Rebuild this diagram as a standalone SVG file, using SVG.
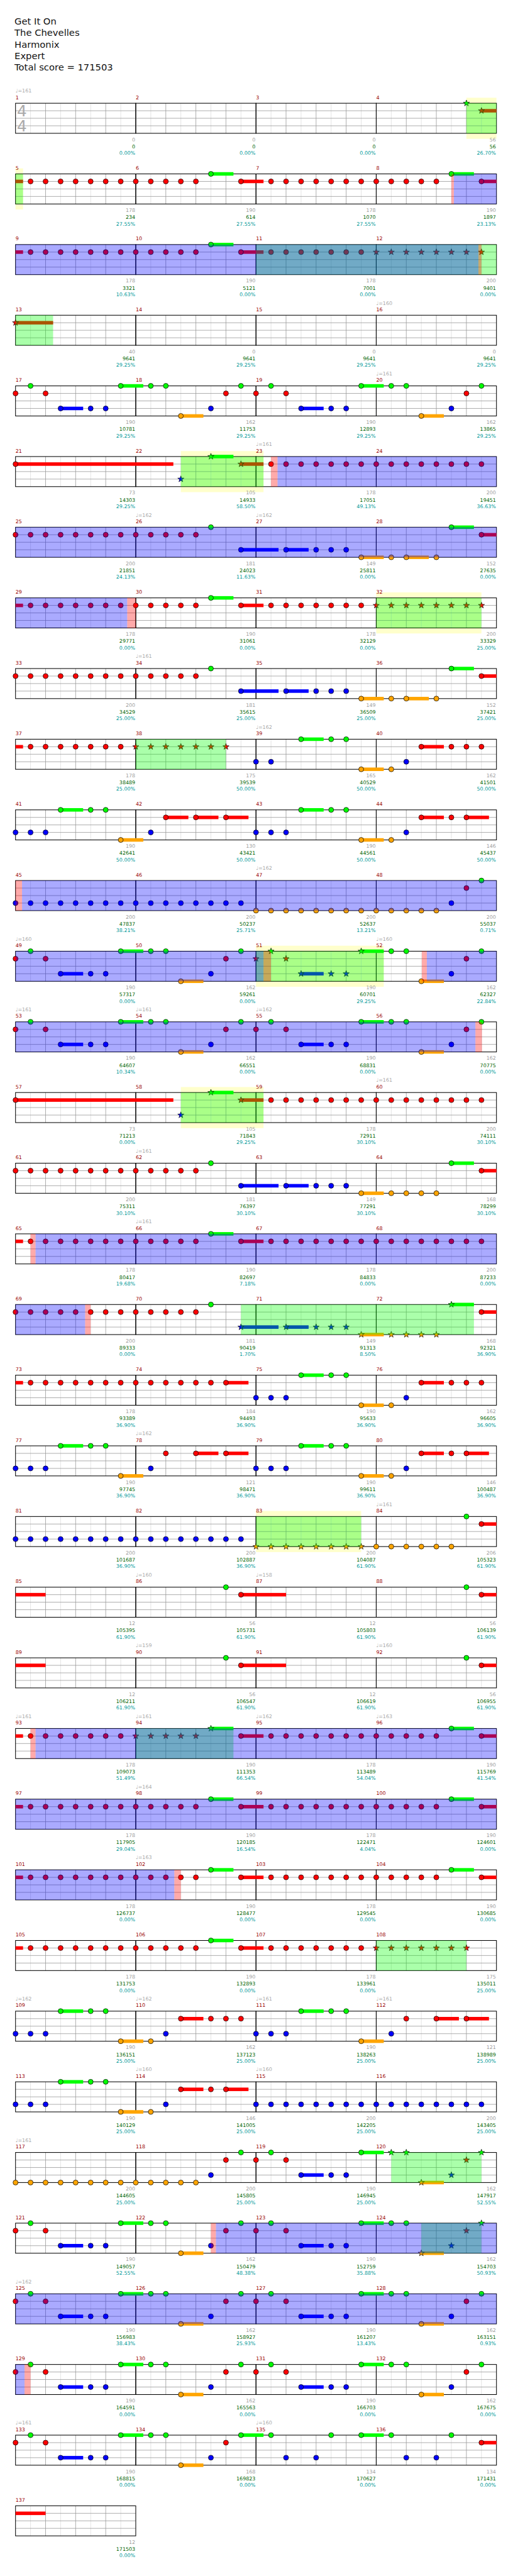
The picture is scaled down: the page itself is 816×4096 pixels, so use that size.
<svg xmlns="http://www.w3.org/2000/svg" width="816" height="4096" viewBox="0 0 816 4096">
<style>
.gl{stroke:#ddd;stroke-width:1;fill:none}
.gg{stroke:#999;stroke-width:1;fill:none}
.gb{fill:none;stroke:#000;stroke-width:1.3}
.sG{fill:#0f0}.sR{fill:#f00}.sB{fill:#00f}.sO{fill:#ffa500}
.og{fill:#0f0;fill-opacity:.333}.ob{fill:#00f;fill-opacity:.333}.op{fill:#f00;fill-opacity:.333}
.yl{fill:#ffffcc}
text{font-family:"DejaVu Sans",Verdana,sans-serif}
.ttl{font-size:18.5px;fill:#111}
.mn{font-size:10px;fill:#990000}
.tp{font-size:10px;fill:#aaa}
.lb{font-size:10px;text-anchor:end}
.c{fill:#a0a0a0}.s{fill:#006400}.p{fill:#009999}
.ts{font-size:31px;fill:#aaa}
</style>
<defs>
<circle id="nG" r="5" fill="#0f0" stroke="#000" stroke-width=".9"/>
<circle id="nR" r="5" fill="#f00" stroke="#000" stroke-width=".9"/>
<circle id="nB" r="5" fill="#00f" stroke="#000" stroke-width=".9"/>
<circle id="nO" r="5" fill="#ffa500" stroke="#000" stroke-width=".9"/>
<polygon id="tG" points="0,-6.5 1.53,-2.1 6.18,-2.01 2.47,.8 3.82,5.26 0,2.6 -3.82,5.26 -2.47,.8 -6.18,-2.01 -1.53,-2.1" fill="#0f0" stroke="#000" stroke-width=".8"/>
<polygon id="tR" points="0,-6.5 1.53,-2.1 6.18,-2.01 2.47,.8 3.82,5.26 0,2.6 -3.82,5.26 -2.47,.8 -6.18,-2.01 -1.53,-2.1" fill="#f00" stroke="#000" stroke-width=".8"/>
<polygon id="tB" points="0,-6.5 1.53,-2.1 6.18,-2.01 2.47,.8 3.82,5.26 0,2.6 -3.82,5.26 -2.47,.8 -6.18,-2.01 -1.53,-2.1" fill="#00f" stroke="#000" stroke-width=".8"/>
<polygon id="tO" points="0,-6.5 1.53,-2.1 6.18,-2.01 2.47,.8 3.82,5.26 0,2.6 -3.82,5.26 -2.47,.8 -6.18,-2.01 -1.53,-2.1" fill="#ffa500" stroke="#000" stroke-width=".8"/>
<g id="R4"><use href="#nR" y="15"/><use href="#nR" x="30" y="15"/><use href="#nR" x="60" y="15"/><use href="#nR" x="90" y="15"/></g>
<g id="R8"><use href="#R4"/><use href="#R4" x="120"/></g>
<g id="B4"><use href="#nB" y="45"/><use href="#nB" x="30" y="45"/><use href="#nB" x="60" y="45"/><use href="#nB" x="90" y="45"/></g>
<g id="B8"><use href="#B4"/><use href="#B4" x="120"/></g>
<g id="O4"><use href="#nO" y="60"/><use href="#nO" x="30" y="60"/><use href="#nO" x="60" y="60"/><use href="#nO" x="90" y="60"/></g>
<g id="O8"><use href="#O4"/><use href="#O4" x="120"/></g>
<g id="SR4"><use href="#tR" y="15"/><use href="#tR" x="30" y="15"/><use href="#tR" x="60" y="15"/><use href="#tR" x="90" y="15"/></g>
<g id="SR8"><use href="#SR4"/><use href="#SR4" x="120"/></g>
<g id="SO4"><use href="#tO" y="60"/><use href="#tO" x="30" y="60"/><use href="#tO" x="60" y="60"/><use href="#tO" x="90" y="60"/></g>
<g id="SO8"><use href="#SO4"/><use href="#SO4" x="120"/></g>
<g id="grid1">
<path class="gl" d="M30 0V60M90 0V60M150 0V60M210 0V60"/>
<path class="gg" d="M60 0V60M120 0V60M180 0V60M0 15H240M0 30H240M0 45H240"/>
<rect class="gb" width="240" height="60"/>
</g>
<g id="grid4"><use href="#grid1" x="31"/><use href="#grid1" x="271"/><use href="#grid1" x="511"/><use href="#grid1" x="751"/></g>
<g id="patA">
<rect class="sB" x="121" y="41.5" width="45" height="7"/>
<rect class="sG" x="241" y="-3.5" width="45" height="7"/>
<rect class="sO" x="361" y="56.5" width="45" height="7"/>
<use href="#nR" x="31" y="15"/><use href="#nG" x="61"/><use href="#nR" x="91" y="15"/>
<use href="#nB" x="121" y="45"/><use href="#nB" x="181" y="45"/><use href="#nB" x="211" y="45"/>
<use href="#nG" x="241"/><use href="#nG" x="301"/><use href="#nG" x="331"/>
<use href="#nO" x="361" y="60"/><use href="#nB" x="421" y="45"/><use href="#nR" x="451" y="15"/><use href="#nG" x="481"/>
</g>
<g id="patC">
<use href="#R8" x="31"/><use href="#R4" x="271"/><use href="#nR" x="391" y="15"/>
<use href="#nG" x="421"/>
<rect class="sB" x="481" y="41.5" width="75" height="7"/><use href="#nB" x="481" y="45"/>
<rect class="sB" x="571" y="41.5" width="45" height="7"/><use href="#nB" x="571" y="45"/>
<use href="#nB" x="631" y="45"/><use href="#nB" x="661" y="45"/><use href="#nB" x="691" y="45"/>
<rect class="sO" x="721" y="56.5" width="45" height="7"/><use href="#nO" x="721" y="60"/>
<use href="#nO" x="781" y="60"/>
<rect class="sO" x="811" y="56.5" width="45" height="7"/><use href="#nO" x="811" y="60"/>
<use href="#nO" x="871" y="60"/>
<rect class="sG" x="901" y="-3.5" width="45" height="7"/><use href="#nG" x="901"/>
<rect class="sR" x="961" y="11.5" width="30" height="7"/><use href="#nR" x="961" y="15"/>
</g>
<g id="patD">
<rect class="sR" x="31" y="11.5" width="15" height="7"/>
<use href="#R8" x="61"/><use href="#R4" x="301"/>
<rect class="sG" x="421" y="-3.5" width="45" height="7"/><use href="#nG" x="421"/>
<rect class="sR" x="481" y="11.5" width="45" height="7"/><use href="#nR" x="481" y="15"/>
<use href="#R8" x="541"/><use href="#R4" x="781"/>
<rect class="sG" x="901" y="-3.5" width="45" height="7"/><use href="#nG" x="901"/>
<rect class="sR" x="961" y="11.5" width="30" height="7"/><use href="#nR" x="961" y="15"/>
</g>
</defs>
<rect width="816" height="4096" fill="#fff"/>
<g transform="scale(0.796875)">
<g id="title">
<text class="ttl" x="29" y="49">Get It On</text>
<text class="ttl" x="29" y="72">The Chevelles</text>
<text class="ttl" x="29" y="95">Harmonix</text>
<text class="ttl" x="29" y="118">Expert</text>
<text class="ttl" x="29" y="141">Total score = 171503</text>
</g>

<g id="row1" transform="translate(0,206)">
<rect class="yl" x="931" y="-11" width="60" height="82"/>
<use href="#grid4"/>
<text class="ts" x="34" y="26.5">4</text><text class="ts" x="34" y="56.5">4</text>
<rect class="sR" x="961" y="11.5" width="30" height="7"/>
<use href="#tG" x="931"/><use href="#tR" x="961" y="15"/>
<rect class="og" x="931" width="60" height="60"/>
<g id="m1"><text class="tp" x="31" y="-21">♩=161</text><text class="mn" x="31" y="-8">1</text><text class="lb"><tspan class="c" x="270" y="76">0</tspan><tspan class="s" x="270" y="90">0</tspan><tspan class="p" x="270" y="103">0.00%</tspan></text></g>
<g id="m2"><text class="mn" x="271" y="-8">2</text><text class="lb"><tspan class="c" x="510" y="76">0</tspan><tspan class="s" x="510" y="90">0</tspan><tspan class="p" x="510" y="103">0.00%</tspan></text></g>
<g id="m3"><text class="mn" x="511" y="-8">3</text><text class="lb"><tspan class="c" x="750" y="76">0</tspan><tspan class="s" x="750" y="90">0</tspan><tspan class="p" x="750" y="103">0.00%</tspan></text></g>
<g id="m4"><text class="mn" x="751" y="-8">4</text><text class="lb"><tspan class="c" x="990" y="76">56</tspan><tspan class="s" x="990" y="90">56</tspan><tspan class="p" x="990" y="103">26.70%</tspan></text></g>
</g>

<g id="row2" transform="translate(0,347)">
<rect class="yl" x="31" y="-11" width="15" height="82"/>
<use href="#grid4"/>
<use href="#patD"/>
<rect class="og" x="31" width="15" height="60"/><rect class="op" x="901" width="5" height="60"/><rect class="ob" x="906" width="85" height="60"/>
<g id="m5"><text class="mn" x="31" y="-8">5</text><text class="lb"><tspan class="c" x="270" y="76">178</tspan><tspan class="s" x="270" y="90">234</tspan><tspan class="p" x="270" y="103">27.55%</tspan></text></g>
<g id="m6"><text class="mn" x="271" y="-8">6</text><text class="lb"><tspan class="c" x="510" y="76">190</tspan><tspan class="s" x="510" y="90">614</tspan><tspan class="p" x="510" y="103">27.55%</tspan></text></g>
<g id="m7"><text class="mn" x="511" y="-8">7</text><text class="lb"><tspan class="c" x="750" y="76">178</tspan><tspan class="s" x="750" y="90">1070</tspan><tspan class="p" x="750" y="103">27.55%</tspan></text></g>
<g id="m8"><text class="mn" x="751" y="-8">8</text><text class="lb"><tspan class="c" x="990" y="76">190</tspan><tspan class="s" x="990" y="90">1897</tspan><tspan class="p" x="990" y="103">23.13%</tspan></text></g>
</g>

<g id="row3" transform="translate(0,488)">
<use href="#grid4"/>
<rect class="sR" x="31" y="11.5" width="15" height="7"/>
<use href="#R8" x="61"/><use href="#R4" x="301"/>
<rect class="sG" x="421" y="-3.5" width="45" height="7"/><use href="#nG" x="421"/>
<rect class="sR" x="481" y="11.5" width="45" height="7"/><use href="#nR" x="481" y="15"/>
<use href="#R4" x="541"/><use href="#nR" x="661" y="15"/><use href="#nR" x="691" y="15"/><use href="#nR" x="721" y="15"/>
<use href="#SR8" x="751"/>
<rect class="og" x="511" width="480" height="60"/><rect class="ob" x="31" width="924" height="60"/><rect class="op" x="955" width="6" height="60"/>
<g id="m9"><text class="mn" x="31" y="-8">9</text><text class="lb"><tspan class="c" x="270" y="76">178</tspan><tspan class="s" x="270" y="90">3321</tspan><tspan class="p" x="270" y="103">10.63%</tspan></text></g>
<g id="m10"><text class="mn" x="271" y="-8">10</text><text class="lb"><tspan class="c" x="510" y="76">190</tspan><tspan class="s" x="510" y="90">5121</tspan><tspan class="p" x="510" y="103">0.00%</tspan></text></g>
<g id="m11"><text class="mn" x="511" y="-8">11</text><text class="lb"><tspan class="c" x="750" y="76">178</tspan><tspan class="s" x="750" y="90">7001</tspan><tspan class="p" x="750" y="103">0.00%</tspan></text></g>
<g id="m12"><text class="mn" x="751" y="-8">12</text><text class="lb"><tspan class="c" x="990" y="76">200</tspan><tspan class="s" x="990" y="90">9401</tspan><tspan class="p" x="990" y="103">0.00%</tspan></text></g>
</g>

<g id="row4" transform="translate(0,629)">
<use href="#grid4"/>
<rect class="sR" x="31" y="11.5" width="75" height="7"/><use href="#tR" x="31" y="15"/>
<rect class="og" x="31" width="75" height="60"/>
<g id="m13"><text class="mn" x="31" y="-8">13</text><text class="lb"><tspan class="c" x="270" y="76">40</tspan><tspan class="s" x="270" y="90">9641</tspan><tspan class="p" x="270" y="103">29.25%</tspan></text></g>
<g id="m14"><text class="mn" x="271" y="-8">14</text><text class="lb"><tspan class="c" x="510" y="76">0</tspan><tspan class="s" x="510" y="90">9641</tspan><tspan class="p" x="510" y="103">29.25%</tspan></text></g>
<g id="m15"><text class="mn" x="511" y="-8">15</text><text class="lb"><tspan class="c" x="750" y="76">0</tspan><tspan class="s" x="750" y="90">9641</tspan><tspan class="p" x="750" y="103">29.25%</tspan></text></g>
<g id="m16"><text class="tp" x="751" y="-21">♩=160</text><text class="mn" x="751" y="-8">16</text><text class="lb"><tspan class="c" x="990" y="76">0</tspan><tspan class="s" x="990" y="90">9641</tspan><tspan class="p" x="990" y="103">29.25%</tspan></text></g>
</g>

<g id="row5" transform="translate(0,770)">
<use href="#grid4"/>
<use href="#patA"/><use href="#patA" x="480"/>
<g id="m17"><text class="mn" x="31" y="-8">17</text><text class="lb"><tspan class="c" x="270" y="76">190</tspan><tspan class="s" x="270" y="90">10781</tspan><tspan class="p" x="270" y="103">29.25%</tspan></text></g>
<g id="m18"><text class="mn" x="271" y="-8">18</text><text class="lb"><tspan class="c" x="510" y="76">162</tspan><tspan class="s" x="510" y="90">11753</tspan><tspan class="p" x="510" y="103">29.25%</tspan></text></g>
<g id="m19"><text class="mn" x="511" y="-8">19</text><text class="lb"><tspan class="c" x="750" y="76">190</tspan><tspan class="s" x="750" y="90">12893</tspan><tspan class="p" x="750" y="103">29.25%</tspan></text></g>
<g id="m20"><text class="tp" x="751" y="-21">♩=161</text><text class="mn" x="751" y="-8">20</text><text class="lb"><tspan class="c" x="990" y="76">162</tspan><tspan class="s" x="990" y="90">13865</tspan><tspan class="p" x="990" y="103">29.25%</tspan></text></g>
</g>

<g id="row6" transform="translate(0,911)">
<rect class="yl" x="361" y="-11" width="165" height="82"/>
<use href="#grid4"/>
<rect class="sR" x="31" y="11.5" width="315" height="7"/><use href="#nR" x="31" y="15"/>
<use href="#tB" x="361" y="45"/>
<rect class="sG" x="421" y="-3.5" width="45" height="7"/><use href="#tG" x="421"/>
<rect class="sR" x="481" y="11.5" width="45" height="7"/><use href="#tR" x="481" y="15"/>
<use href="#nR" x="541" y="15"/><use href="#R8" x="571"/><use href="#R4" x="811"/><use href="#nR" x="931" y="15"/><use href="#nR" x="961" y="15"/>
<rect class="og" x="361" width="165" height="60"/><rect class="op" x="541" width="13" height="60"/><rect class="ob" x="554" width="437" height="60"/>
<g id="m21"><text class="mn" x="31" y="-8">21</text><text class="lb"><tspan class="c" x="270" y="76">73</tspan><tspan class="s" x="270" y="90">14303</tspan><tspan class="p" x="270" y="103">29.25%</tspan></text></g>
<g id="m22"><text class="mn" x="271" y="-8">22</text><text class="lb"><tspan class="c" x="510" y="76">105</tspan><tspan class="s" x="510" y="90">14933</tspan><tspan class="p" x="510" y="103">58.50%</tspan></text></g>
<g id="m23"><text class="tp" x="511" y="-21">♩=161</text><text class="mn" x="511" y="-8">23</text><text class="lb"><tspan class="c" x="750" y="76">178</tspan><tspan class="s" x="750" y="90">17051</tspan><tspan class="p" x="750" y="103">49.13%</tspan></text></g>
<g id="m24"><text class="mn" x="751" y="-8">24</text><text class="lb"><tspan class="c" x="990" y="76">200</tspan><tspan class="s" x="990" y="90">19451</tspan><tspan class="p" x="990" y="103">36.63%</tspan></text></g>
</g>

<g id="row7" transform="translate(0,1052)">
<use href="#grid4"/>
<use href="#patC"/>
<rect class="ob" x="31" width="960" height="60"/>
<g id="m25"><text class="mn" x="31" y="-8">25</text><text class="lb"><tspan class="c" x="270" y="76">200</tspan><tspan class="s" x="270" y="90">21851</tspan><tspan class="p" x="270" y="103">24.13%</tspan></text></g>
<g id="m26"><text class="tp" x="271" y="-21">♩=162</text><text class="mn" x="271" y="-8">26</text><text class="lb"><tspan class="c" x="510" y="76">181</tspan><tspan class="s" x="510" y="90">24023</tspan><tspan class="p" x="510" y="103">11.63%</tspan></text></g>
<g id="m27"><text class="tp" x="511" y="-21">♩=162</text><text class="mn" x="511" y="-8">27</text><text class="lb"><tspan class="c" x="750" y="76">149</tspan><tspan class="s" x="750" y="90">25811</tspan><tspan class="p" x="750" y="103">0.00%</tspan></text></g>
<g id="m28"><text class="mn" x="751" y="-8">28</text><text class="lb"><tspan class="c" x="990" y="76">152</tspan><tspan class="s" x="990" y="90">27635</tspan><tspan class="p" x="990" y="103">0.00%</tspan></text></g>
</g>

<g id="row8" transform="translate(0,1193)">
<rect class="yl" x="751" y="-11" width="210" height="82"/>
<use href="#grid4"/>
<rect class="sR" x="31" y="11.5" width="15" height="7"/>
<use href="#R8" x="61"/><use href="#R4" x="301"/>
<rect class="sG" x="421" y="-3.5" width="45" height="7"/><use href="#nG" x="421"/>
<rect class="sR" x="481" y="11.5" width="45" height="7"/><use href="#nR" x="481" y="15"/>
<use href="#R4" x="541"/><use href="#nR" x="661" y="15"/><use href="#nR" x="691" y="15"/><use href="#nR" x="721" y="15"/>
<use href="#SR8" x="751"/>
<rect class="ob" x="31" width="223" height="60"/><rect class="op" x="254" width="17" height="60"/><rect class="og" x="751" width="210" height="60"/>
<g id="m29"><text class="mn" x="31" y="-8">29</text><text class="lb"><tspan class="c" x="270" y="76">178</tspan><tspan class="s" x="270" y="90">29771</tspan><tspan class="p" x="270" y="103">0.00%</tspan></text></g>
<g id="m30"><text class="mn" x="271" y="-8">30</text><text class="lb"><tspan class="c" x="510" y="76">190</tspan><tspan class="s" x="510" y="90">31061</tspan><tspan class="p" x="510" y="103">0.00%</tspan></text></g>
<g id="m31"><text class="mn" x="511" y="-8">31</text><text class="lb"><tspan class="c" x="750" y="76">178</tspan><tspan class="s" x="750" y="90">32129</tspan><tspan class="p" x="750" y="103">0.00%</tspan></text></g>
<g id="m32"><text class="mn" x="751" y="-8">32</text><text class="lb"><tspan class="c" x="990" y="76">200</tspan><tspan class="s" x="990" y="90">33329</tspan><tspan class="p" x="990" y="103">25.00%</tspan></text></g>
</g>

<g id="row9" transform="translate(0,1334)">
<use href="#grid4"/>
<use href="#patC"/>
<g id="m33"><text class="mn" x="31" y="-8">33</text><text class="lb"><tspan class="c" x="270" y="76">200</tspan><tspan class="s" x="270" y="90">34529</tspan><tspan class="p" x="270" y="103">25.00%</tspan></text></g>
<g id="m34"><text class="tp" x="271" y="-21">♩=161</text><text class="mn" x="271" y="-8">34</text><text class="lb"><tspan class="c" x="510" y="76">181</tspan><tspan class="s" x="510" y="90">35615</tspan><tspan class="p" x="510" y="103">25.00%</tspan></text></g>
<g id="m35"><text class="mn" x="511" y="-8">35</text><text class="lb"><tspan class="c" x="750" y="76">149</tspan><tspan class="s" x="750" y="90">36509</tspan><tspan class="p" x="750" y="103">25.00%</tspan></text></g>
<g id="m36"><text class="mn" x="751" y="-8">36</text><text class="lb"><tspan class="c" x="990" y="76">152</tspan><tspan class="s" x="990" y="90">37421</tspan><tspan class="p" x="990" y="103">25.00%</tspan></text></g>
</g>

<g id="row10" transform="translate(0,1475)">
<use href="#grid4"/>
<rect class="sR" x="31" y="11.5" width="15" height="7"/>
<use href="#R4" x="61"/><use href="#nR" x="181" y="15"/><use href="#nR" x="211" y="15"/><use href="#nR" x="241" y="15"/>
<use href="#SR4" x="271"/><use href="#tR" x="391" y="15"/><use href="#tR" x="421" y="15"/><use href="#tR" x="451" y="15"/>
<use href="#nB" x="511" y="45"/><use href="#nB" x="541" y="45"/>
<rect class="sG" x="601" y="-3.5" width="45" height="7"/><use href="#nG" x="601"/><use href="#nG" x="661"/><use href="#nG" x="691"/>
<rect class="sO" x="721" y="56.5" width="45" height="7"/><use href="#nO" x="721" y="60"/><use href="#nO" x="781" y="60"/>
<use href="#nB" x="811" y="45"/>
<rect class="sR" x="841" y="11.5" width="45" height="7"/><use href="#nR" x="841" y="15"/><use href="#nR" x="901" y="15"/><use href="#nR" x="931" y="15"/><use href="#nR" x="961" y="15"/>
<rect class="og" x="271" width="180" height="60"/>
<g id="m37"><text class="mn" x="31" y="-8">37</text><text class="lb"><tspan class="c" x="270" y="76">178</tspan><tspan class="s" x="270" y="90">38489</tspan><tspan class="p" x="270" y="103">25.00%</tspan></text></g>
<g id="m38"><text class="mn" x="271" y="-8">38</text><text class="lb"><tspan class="c" x="510" y="76">175</tspan><tspan class="s" x="510" y="90">39539</tspan><tspan class="p" x="510" y="103">50.00%</tspan></text></g>
<g id="m39"><text class="tp" x="511" y="-21">♩=162</text><text class="mn" x="511" y="-8">39</text><text class="lb"><tspan class="c" x="750" y="76">165</tspan><tspan class="s" x="750" y="90">40529</tspan><tspan class="p" x="750" y="103">50.00%</tspan></text></g>
<g id="m40"><text class="mn" x="751" y="-8">40</text><text class="lb"><tspan class="c" x="990" y="76">162</tspan><tspan class="s" x="990" y="90">41501</tspan><tspan class="p" x="990" y="103">50.00%</tspan></text></g>
</g>

<g id="row11" transform="translate(0,1616)">
<use href="#grid4"/>
<use href="#nB" x="31" y="45"/><use href="#nB" x="61" y="45"/><use href="#nB" x="91" y="45"/>
<rect class="sG" x="121" y="-3.5" width="45" height="7"/><use href="#nG" x="121"/><use href="#nG" x="181"/><use href="#nG" x="211"/>
<rect class="sO" x="241" y="56.5" width="45" height="7"/><use href="#nO" x="241" y="60"/>
<use href="#nB" x="301" y="45"/>
<rect class="sR" x="331" y="11.5" width="45" height="7"/><use href="#nR" x="331" y="15"/>
<rect class="sR" x="391" y="11.5" width="45" height="7"/><use href="#nR" x="391" y="15"/>
<rect class="sR" x="451" y="11.5" width="45" height="7"/><use href="#nR" x="451" y="15"/>
<use href="#nB" x="511" y="45"/><use href="#nB" x="541" y="45"/><use href="#nB" x="571" y="45"/>
<rect class="sG" x="601" y="-3.5" width="45" height="7"/><use href="#nG" x="601"/><use href="#nG" x="661"/><use href="#nG" x="691"/>
<rect class="sO" x="721" y="56.5" width="45" height="7"/><use href="#nO" x="721" y="60"/><use href="#nO" x="781" y="60"/>
<use href="#nB" x="811" y="45"/>
<rect class="sR" x="841" y="11.5" width="45" height="7"/><use href="#nR" x="841" y="15"/><use href="#nR" x="901" y="15"/>
<rect class="sR" x="931" y="11.5" width="45" height="7"/><use href="#nR" x="931" y="15"/>
<g id="m41"><text class="mn" x="31" y="-8">41</text><text class="lb"><tspan class="c" x="270" y="76">190</tspan><tspan class="s" x="270" y="90">42641</tspan><tspan class="p" x="270" y="103">50.00%</tspan></text></g>
<g id="m42"><text class="mn" x="271" y="-8">42</text><text class="lb"><tspan class="c" x="510" y="76">130</tspan><tspan class="s" x="510" y="90">43421</tspan><tspan class="p" x="510" y="103">50.00%</tspan></text></g>
<g id="m43"><text class="mn" x="511" y="-8">43</text><text class="lb"><tspan class="c" x="750" y="76">190</tspan><tspan class="s" x="750" y="90">44561</tspan><tspan class="p" x="750" y="103">50.00%</tspan></text></g>
<g id="m44"><text class="mn" x="751" y="-8">44</text><text class="lb"><tspan class="c" x="990" y="76">146</tspan><tspan class="s" x="990" y="90">45437</tspan><tspan class="p" x="990" y="103">50.00%</tspan></text></g>
</g>

<g id="row12" transform="translate(0,1757)">
<use href="#grid4"/>
<use href="#B8" x="31"/><use href="#B8" x="271"/>
<use href="#O8" x="511"/><use href="#O4" x="751"/><use href="#nO" x="871" y="60"/>
<use href="#nB" x="901" y="45"/><use href="#nR" x="931" y="15"/><use href="#nG" x="961"/>
<rect class="op" x="31" width="13" height="60"/><rect class="ob" x="44" width="947" height="60"/>
<g id="m45"><text class="mn" x="31" y="-8">45</text><text class="lb"><tspan class="c" x="270" y="76">200</tspan><tspan class="s" x="270" y="90">47837</tspan><tspan class="p" x="270" y="103">38.21%</tspan></text></g>
<g id="m46"><text class="mn" x="271" y="-8">46</text><text class="lb"><tspan class="c" x="510" y="76">200</tspan><tspan class="s" x="510" y="90">50237</tspan><tspan class="p" x="510" y="103">25.71%</tspan></text></g>
<g id="m47"><text class="tp" x="511" y="-21">♩=162</text><text class="mn" x="511" y="-8">47</text><text class="lb"><tspan class="c" x="750" y="76">200</tspan><tspan class="s" x="750" y="90">52637</tspan><tspan class="p" x="750" y="103">13.21%</tspan></text></g>
<g id="m48"><text class="mn" x="751" y="-8">48</text><text class="lb"><tspan class="c" x="990" y="76">200</tspan><tspan class="s" x="990" y="90">55037</tspan><tspan class="p" x="990" y="103">0.71%</tspan></text></g>
</g>

<g id="row13" transform="translate(0,1898)">
<rect class="yl" x="511" y="-11" width="255" height="82"/>
<use href="#grid4"/>
<use href="#patA"/>
<use href="#tR" x="511" y="15"/><use href="#tG" x="541"/><use href="#tR" x="571" y="15"/>
<rect class="sB" x="601" y="41.5" width="45" height="7"/><use href="#tB" x="601" y="45"/><use href="#tB" x="661" y="45"/><use href="#tB" x="691" y="45"/>
<rect class="sG" x="721" y="-3.5" width="45" height="7"/><use href="#tG" x="721"/>
<use href="#nG" x="781"/><use href="#nG" x="811"/>
<rect class="sO" x="841" y="56.5" width="45" height="7"/><use href="#nO" x="841" y="60"/>
<use href="#nB" x="901" y="45"/><use href="#nR" x="931" y="15"/><use href="#nG" x="961"/>
<rect class="og" x="511" width="255" height="60"/><rect class="ob" x="31" width="495" height="60"/><rect class="op" x="526" width="15" height="60"/><rect class="op" x="842" width="10" height="60"/><rect class="ob" x="852" width="139" height="60"/>
<g id="m49"><text class="tp" x="31" y="-21">♩=160</text><text class="mn" x="31" y="-8">49</text><text class="lb"><tspan class="c" x="270" y="76">190</tspan><tspan class="s" x="270" y="90">57317</tspan><tspan class="p" x="270" y="103">0.00%</tspan></text></g>
<g id="m50"><text class="mn" x="271" y="-8">50</text><text class="lb"><tspan class="c" x="510" y="76">162</tspan><tspan class="s" x="510" y="90">59261</tspan><tspan class="p" x="510" y="103">0.00%</tspan></text></g>
<g id="m51"><text class="mn" x="511" y="-8">51</text><text class="lb"><tspan class="c" x="750" y="76">190</tspan><tspan class="s" x="750" y="90">60701</tspan><tspan class="p" x="750" y="103">29.25%</tspan></text></g>
<g id="m52"><text class="tp" x="751" y="-21">♩=160</text><text class="mn" x="751" y="-8">52</text><text class="lb"><tspan class="c" x="990" y="76">162</tspan><tspan class="s" x="990" y="90">62327</tspan><tspan class="p" x="990" y="103">22.84%</tspan></text></g>
</g>

<g id="row14" transform="translate(0,2039)">
<use href="#grid4"/>
<use href="#patA"/><use href="#patA" x="480"/>
<rect class="ob" x="31" width="918" height="60"/><rect class="op" x="949" width="13" height="60"/>
<g id="m53"><text class="tp" x="31" y="-21">♩=161</text><text class="mn" x="31" y="-8">53</text><text class="lb"><tspan class="c" x="270" y="76">190</tspan><tspan class="s" x="270" y="90">64607</tspan><tspan class="p" x="270" y="103">10.34%</tspan></text></g>
<g id="m54"><text class="tp" x="271" y="-21">♩=161</text><text class="mn" x="271" y="-8">54</text><text class="lb"><tspan class="c" x="510" y="76">162</tspan><tspan class="s" x="510" y="90">66551</tspan><tspan class="p" x="510" y="103">0.00%</tspan></text></g>
<g id="m55"><text class="tp" x="511" y="-21">♩=162</text><text class="mn" x="511" y="-8">55</text><text class="lb"><tspan class="c" x="750" y="76">190</tspan><tspan class="s" x="750" y="90">68831</tspan><tspan class="p" x="750" y="103">0.00%</tspan></text></g>
<g id="m56"><text class="mn" x="751" y="-8">56</text><text class="lb"><tspan class="c" x="990" y="76">162</tspan><tspan class="s" x="990" y="90">70775</tspan><tspan class="p" x="990" y="103">0.00%</tspan></text></g>
</g>

<g id="row15" transform="translate(0,2180)">
<rect class="yl" x="361" y="-11" width="165" height="82"/>
<use href="#grid4"/>
<rect class="sR" x="31" y="11.5" width="315" height="7"/><use href="#nR" x="31" y="15"/>
<use href="#tB" x="361" y="45"/>
<rect class="sG" x="421" y="-3.5" width="45" height="7"/><use href="#tG" x="421"/>
<rect class="sR" x="481" y="11.5" width="45" height="7"/><use href="#tR" x="481" y="15"/>
<use href="#R8" x="541"/><use href="#R4" x="781"/><use href="#nR" x="901" y="15"/><use href="#nR" x="931" y="15"/><use href="#nR" x="961" y="15"/>
<rect class="og" x="361" width="165" height="60"/>
<g id="m57"><text class="mn" x="31" y="-8">57</text><text class="lb"><tspan class="c" x="270" y="76">73</tspan><tspan class="s" x="270" y="90">71213</tspan><tspan class="p" x="270" y="103">0.00%</tspan></text></g>
<g id="m58"><text class="mn" x="271" y="-8">58</text><text class="lb"><tspan class="c" x="510" y="76">105</tspan><tspan class="s" x="510" y="90">71843</tspan><tspan class="p" x="510" y="103">29.25%</tspan></text></g>
<g id="m59"><text class="mn" x="511" y="-8">59</text><text class="lb"><tspan class="c" x="750" y="76">178</tspan><tspan class="s" x="750" y="90">72911</tspan><tspan class="p" x="750" y="103">30.10%</tspan></text></g>
<g id="m60"><text class="tp" x="751" y="-21">♩=161</text><text class="mn" x="751" y="-8">60</text><text class="lb"><tspan class="c" x="990" y="76">200</tspan><tspan class="s" x="990" y="90">74111</tspan><tspan class="p" x="990" y="103">30.10%</tspan></text></g>
</g>

<g id="row16" transform="translate(0,2321)">
<use href="#grid4"/>
<use href="#R8" x="31"/><use href="#R4" x="271"/><use href="#nR" x="391" y="15"/>
<use href="#nG" x="421"/>
<rect class="sB" x="481" y="41.5" width="75" height="7"/><use href="#nB" x="481" y="45"/>
<rect class="sB" x="571" y="41.5" width="45" height="7"/><use href="#nB" x="571" y="45"/>
<use href="#nB" x="631" y="45"/><use href="#nB" x="661" y="45"/><use href="#nB" x="691" y="45"/>
<rect class="sO" x="721" y="56.5" width="45" height="7"/><use href="#nO" x="721" y="60"/><use href="#O4" x="781"/>
<rect class="sG" x="901" y="-3.5" width="45" height="7"/><use href="#nG" x="901"/>
<rect class="sR" x="961" y="11.5" width="30" height="7"/><use href="#nR" x="961" y="15"/>
<g id="m61"><text class="mn" x="31" y="-8">61</text><text class="lb"><tspan class="c" x="270" y="76">200</tspan><tspan class="s" x="270" y="90">75311</tspan><tspan class="p" x="270" y="103">30.10%</tspan></text></g>
<g id="m62"><text class="tp" x="271" y="-21">♩=161</text><text class="mn" x="271" y="-8">62</text><text class="lb"><tspan class="c" x="510" y="76">181</tspan><tspan class="s" x="510" y="90">76397</tspan><tspan class="p" x="510" y="103">30.10%</tspan></text></g>
<g id="m63"><text class="mn" x="511" y="-8">63</text><text class="lb"><tspan class="c" x="750" y="76">149</tspan><tspan class="s" x="750" y="90">77291</tspan><tspan class="p" x="750" y="103">30.10%</tspan></text></g>
<g id="m64"><text class="mn" x="751" y="-8">64</text><text class="lb"><tspan class="c" x="990" y="76">168</tspan><tspan class="s" x="990" y="90">78299</tspan><tspan class="p" x="990" y="103">30.10%</tspan></text></g>
</g>

<g id="row17" transform="translate(0,2462)">
<use href="#grid4"/>
<rect class="sR" x="31" y="11.5" width="15" height="7"/>
<use href="#R8" x="61"/><use href="#R4" x="301"/>
<rect class="sG" x="421" y="-3.5" width="45" height="7"/><use href="#nG" x="421"/>
<rect class="sR" x="481" y="11.5" width="45" height="7"/><use href="#nR" x="481" y="15"/>
<use href="#R8" x="541"/><use href="#R4" x="781"/><use href="#nR" x="901" y="15"/><use href="#nR" x="931" y="15"/><use href="#nR" x="961" y="15"/>
<rect class="op" x="61" width="10" height="60"/><rect class="ob" x="71" width="920" height="60"/>
<g id="m65"><text class="mn" x="31" y="-8">65</text><text class="lb"><tspan class="c" x="270" y="76">178</tspan><tspan class="s" x="270" y="90">80417</tspan><tspan class="p" x="270" y="103">19.68%</tspan></text></g>
<g id="m66"><text class="tp" x="271" y="-21">♩=161</text><text class="mn" x="271" y="-8">66</text><text class="lb"><tspan class="c" x="510" y="76">190</tspan><tspan class="s" x="510" y="90">82697</tspan><tspan class="p" x="510" y="103">7.18%</tspan></text></g>
<g id="m67"><text class="mn" x="511" y="-8">67</text><text class="lb"><tspan class="c" x="750" y="76">178</tspan><tspan class="s" x="750" y="90">84833</tspan><tspan class="p" x="750" y="103">0.00%</tspan></text></g>
<g id="m68"><text class="mn" x="751" y="-8">68</text><text class="lb"><tspan class="c" x="990" y="76">200</tspan><tspan class="s" x="990" y="90">87233</tspan><tspan class="p" x="990" y="103">0.00%</tspan></text></g>
</g>

<g id="row18" transform="translate(0,2603)">
<use href="#grid4"/>
<use href="#R8" x="31"/><use href="#R4" x="271"/><use href="#nR" x="391" y="15"/>
<use href="#nG" x="421"/>
<rect class="sB" x="481" y="41.5" width="75" height="7"/><use href="#tB" x="481" y="45"/>
<rect class="sB" x="571" y="41.5" width="45" height="7"/><use href="#tB" x="571" y="45"/>
<use href="#tB" x="631" y="45"/><use href="#tB" x="661" y="45"/><use href="#tB" x="691" y="45"/>
<rect class="sO" x="721" y="56.5" width="45" height="7"/><use href="#tO" x="721" y="60"/><use href="#SO4" x="781"/>
<rect class="sG" x="901" y="-3.5" width="45" height="7"/><use href="#tG" x="901"/>
<rect class="sR" x="961" y="11.5" width="30" height="7"/><use href="#nR" x="961" y="15"/>
<rect class="og" x="481" width="465" height="60"/><rect class="ob" x="31" width="139" height="60"/><rect class="op" x="170" width="11" height="60"/>
<g id="m69"><text class="mn" x="31" y="-8">69</text><text class="lb"><tspan class="c" x="270" y="76">200</tspan><tspan class="s" x="270" y="90">89333</tspan><tspan class="p" x="270" y="103">0.00%</tspan></text></g>
<g id="m70"><text class="mn" x="271" y="-8">70</text><text class="lb"><tspan class="c" x="510" y="76">181</tspan><tspan class="s" x="510" y="90">90419</tspan><tspan class="p" x="510" y="103">1.70%</tspan></text></g>
<g id="m71"><text class="mn" x="511" y="-8">71</text><text class="lb"><tspan class="c" x="750" y="76">149</tspan><tspan class="s" x="750" y="90">91313</tspan><tspan class="p" x="750" y="103">8.50%</tspan></text></g>
<g id="m72"><text class="mn" x="751" y="-8">72</text><text class="lb"><tspan class="c" x="990" y="76">168</tspan><tspan class="s" x="990" y="90">92321</tspan><tspan class="p" x="990" y="103">36.90%</tspan></text></g>
</g>

<g id="row19" transform="translate(0,2744)">
<use href="#grid4"/>
<rect class="sR" x="31" y="11.5" width="15" height="7"/>
<use href="#R8" x="61"/><use href="#R4" x="301"/><use href="#nR" x="421" y="15"/>
<rect class="sR" x="451" y="11.5" width="45" height="7"/><use href="#nR" x="451" y="15"/>
<use href="#nB" x="511" y="45"/><use href="#nB" x="541" y="45"/><use href="#nB" x="571" y="45"/>
<rect class="sG" x="601" y="-3.5" width="45" height="7"/><use href="#nG" x="601"/><use href="#nG" x="661"/><use href="#nG" x="691"/>
<rect class="sO" x="721" y="56.5" width="45" height="7"/><use href="#nO" x="721" y="60"/><use href="#nO" x="781" y="60"/>
<use href="#nB" x="811" y="45"/>
<rect class="sR" x="841" y="11.5" width="45" height="7"/><use href="#nR" x="841" y="15"/><use href="#nR" x="901" y="15"/><use href="#nR" x="931" y="15"/><use href="#nR" x="961" y="15"/>
<g id="m73"><text class="mn" x="31" y="-8">73</text><text class="lb"><tspan class="c" x="270" y="76">178</tspan><tspan class="s" x="270" y="90">93389</tspan><tspan class="p" x="270" y="103">36.90%</tspan></text></g>
<g id="m74"><text class="mn" x="271" y="-8">74</text><text class="lb"><tspan class="c" x="510" y="76">184</tspan><tspan class="s" x="510" y="90">94493</tspan><tspan class="p" x="510" y="103">36.90%</tspan></text></g>
<g id="m75"><text class="mn" x="511" y="-8">75</text><text class="lb"><tspan class="c" x="750" y="76">190</tspan><tspan class="s" x="750" y="90">95633</tspan><tspan class="p" x="750" y="103">36.90%</tspan></text></g>
<g id="m76"><text class="mn" x="751" y="-8">76</text><text class="lb"><tspan class="c" x="990" y="76">162</tspan><tspan class="s" x="990" y="90">96605</tspan><tspan class="p" x="990" y="103">36.90%</tspan></text></g>
</g>

<g id="row20" transform="translate(0,2885)">
<use href="#grid4"/>
<use href="#nB" x="31" y="45"/><use href="#nB" x="61" y="45"/><use href="#nB" x="91" y="45"/>
<rect class="sG" x="121" y="-3.5" width="45" height="7"/><use href="#nG" x="121"/><use href="#nG" x="181"/><use href="#nG" x="211"/>
<rect class="sO" x="241" y="56.5" width="45" height="7"/><use href="#nO" x="241" y="60"/>
<use href="#nB" x="301" y="45"/>
<use href="#nR" x="331" y="15"/>
<rect class="sR" x="391" y="11.5" width="45" height="7"/><use href="#nR" x="391" y="15"/>
<rect class="sR" x="451" y="11.5" width="45" height="7"/><use href="#nR" x="451" y="15"/>
<use href="#nB" x="511" y="45"/><use href="#nB" x="541" y="45"/><use href="#nB" x="571" y="45"/>
<rect class="sG" x="601" y="-3.5" width="45" height="7"/><use href="#nG" x="601"/><use href="#nG" x="661"/><use href="#nG" x="691"/>
<rect class="sO" x="721" y="56.5" width="45" height="7"/><use href="#nO" x="721" y="60"/><use href="#nO" x="781" y="60"/>
<use href="#nB" x="811" y="45"/>
<rect class="sR" x="841" y="11.5" width="45" height="7"/><use href="#nR" x="841" y="15"/><use href="#nR" x="901" y="15"/>
<rect class="sR" x="931" y="11.5" width="45" height="7"/><use href="#nR" x="931" y="15"/>
<g id="m77"><text class="mn" x="31" y="-8">77</text><text class="lb"><tspan class="c" x="270" y="76">190</tspan><tspan class="s" x="270" y="90">97745</tspan><tspan class="p" x="270" y="103">36.90%</tspan></text></g>
<g id="m78"><text class="tp" x="271" y="-21">♩=162</text><text class="mn" x="271" y="-8">78</text><text class="lb"><tspan class="c" x="510" y="76">121</tspan><tspan class="s" x="510" y="90">98471</tspan><tspan class="p" x="510" y="103">36.90%</tspan></text></g>
<g id="m79"><text class="mn" x="511" y="-8">79</text><text class="lb"><tspan class="c" x="750" y="76">190</tspan><tspan class="s" x="750" y="90">99611</tspan><tspan class="p" x="750" y="103">36.90%</tspan></text></g>
<g id="m80"><text class="mn" x="751" y="-8">80</text><text class="lb"><tspan class="c" x="990" y="76">146</tspan><tspan class="s" x="990" y="90">100487</tspan><tspan class="p" x="990" y="103">36.90%</tspan></text></g>
</g>

<g id="row21" transform="translate(0,3026)">
<rect class="yl" x="511" y="-11" width="210" height="82"/>
<use href="#grid4"/>
<use href="#B8" x="31"/><use href="#B8" x="271"/>
<use href="#SO8" x="511"/>
<use href="#O4" x="751"/><use href="#nO" x="871" y="60"/><use href="#nO" x="901" y="60"/>
<use href="#nG" x="931"/>
<rect class="sR" x="961" y="11.5" width="30" height="7"/><use href="#nR" x="961" y="15"/>
<rect class="og" x="511" width="210" height="60"/>
<g id="m81"><text class="mn" x="31" y="-8">81</text><text class="lb"><tspan class="c" x="270" y="76">200</tspan><tspan class="s" x="270" y="90">101687</tspan><tspan class="p" x="270" y="103">36.90%</tspan></text></g>
<g id="m82"><text class="mn" x="271" y="-8">82</text><text class="lb"><tspan class="c" x="510" y="76">200</tspan><tspan class="s" x="510" y="90">102887</tspan><tspan class="p" x="510" y="103">36.90%</tspan></text></g>
<g id="m83"><text class="mn" x="511" y="-8">83</text><text class="lb"><tspan class="c" x="750" y="76">200</tspan><tspan class="s" x="750" y="90">104087</tspan><tspan class="p" x="750" y="103">61.90%</tspan></text></g>
<g id="m84"><text class="tp" x="751" y="-21">♩=161</text><text class="mn" x="751" y="-8">84</text><text class="lb"><tspan class="c" x="990" y="76">206</tspan><tspan class="s" x="990" y="90">105323</tspan><tspan class="p" x="990" y="103">61.90%</tspan></text></g>
</g>

<g id="row22" transform="translate(0,3167)">
<use href="#grid4"/>
<rect class="sR" x="31" y="11.5" width="60" height="7"/>
<use href="#nG" x="451"/>
<rect class="sR" x="481" y="11.5" width="90" height="7"/><use href="#nR" x="481" y="15"/>
<use href="#nG" x="931"/>
<rect class="sR" x="961" y="11.5" width="30" height="7"/><use href="#nR" x="961" y="15"/>
<g id="m85"><text class="mn" x="31" y="-8">85</text><text class="lb"><tspan class="c" x="270" y="76">12</tspan><tspan class="s" x="270" y="90">105395</tspan><tspan class="p" x="270" y="103">61.90%</tspan></text></g>
<g id="m86"><text class="tp" x="271" y="-21">♩=160</text><text class="mn" x="271" y="-8">86</text><text class="lb"><tspan class="c" x="510" y="76">56</tspan><tspan class="s" x="510" y="90">105731</tspan><tspan class="p" x="510" y="103">61.90%</tspan></text></g>
<g id="m87"><text class="tp" x="511" y="-21">♩=158</text><text class="mn" x="511" y="-8">87</text><text class="lb"><tspan class="c" x="750" y="76">12</tspan><tspan class="s" x="750" y="90">105803</tspan><tspan class="p" x="750" y="103">61.90%</tspan></text></g>
<g id="m88"><text class="mn" x="751" y="-8">88</text><text class="lb"><tspan class="c" x="990" y="76">56</tspan><tspan class="s" x="990" y="90">106139</tspan><tspan class="p" x="990" y="103">61.90%</tspan></text></g>
</g>

<g id="row23" transform="translate(0,3308)">
<use href="#grid4"/>
<rect class="sR" x="31" y="11.5" width="60" height="7"/>
<use href="#nG" x="451"/>
<rect class="sR" x="481" y="11.5" width="90" height="7"/><use href="#nR" x="481" y="15"/>
<use href="#nG" x="931"/>
<rect class="sR" x="961" y="11.5" width="30" height="7"/><use href="#nR" x="961" y="15"/>
<g id="m89"><text class="mn" x="31" y="-8">89</text><text class="lb"><tspan class="c" x="270" y="76">12</tspan><tspan class="s" x="270" y="90">106211</tspan><tspan class="p" x="270" y="103">61.90%</tspan></text></g>
<g id="m90"><text class="tp" x="271" y="-21">♩=159</text><text class="mn" x="271" y="-8">90</text><text class="lb"><tspan class="c" x="510" y="76">56</tspan><tspan class="s" x="510" y="90">106547</tspan><tspan class="p" x="510" y="103">61.90%</tspan></text></g>
<g id="m91"><text class="mn" x="511" y="-8">91</text><text class="lb"><tspan class="c" x="750" y="76">12</tspan><tspan class="s" x="750" y="90">106619</tspan><tspan class="p" x="750" y="103">61.90%</tspan></text></g>
<g id="m92"><text class="tp" x="751" y="-21">♩=160</text><text class="mn" x="751" y="-8">92</text><text class="lb"><tspan class="c" x="990" y="76">56</tspan><tspan class="s" x="990" y="90">106955</tspan><tspan class="p" x="990" y="103">61.90%</tspan></text></g>
</g>

<g id="row24" transform="translate(0,3449)">
<use href="#grid4"/>
<rect class="sR" x="31" y="11.5" width="15" height="7"/>
<use href="#R4" x="61"/><use href="#nR" x="181" y="15"/><use href="#nR" x="211" y="15"/><use href="#nR" x="241" y="15"/>
<use href="#SR4" x="271"/><use href="#tR" x="391" y="15"/>
<rect class="sG" x="421" y="-3.5" width="45" height="7"/><use href="#tG" x="421"/>
<rect class="sR" x="481" y="11.5" width="45" height="7"/><use href="#nR" x="481" y="15"/>
<use href="#R8" x="541"/><use href="#R4" x="781"/>
<rect class="sG" x="901" y="-3.5" width="45" height="7"/><use href="#nG" x="901"/>
<rect class="sR" x="961" y="11.5" width="30" height="7"/><use href="#nR" x="961" y="15"/>
<rect class="og" x="271" width="195" height="60"/><rect class="op" x="61" width="10" height="60"/><rect class="ob" x="71" width="920" height="60"/>
<g id="m93"><text class="tp" x="31" y="-21">♩=161</text><text class="mn" x="31" y="-8">93</text><text class="lb"><tspan class="c" x="270" y="76">178</tspan><tspan class="s" x="270" y="90">109073</tspan><tspan class="p" x="270" y="103">51.49%</tspan></text></g>
<g id="m94"><text class="tp" x="271" y="-21">♩=161</text><text class="mn" x="271" y="-8">94</text><text class="lb"><tspan class="c" x="510" y="76">190</tspan><tspan class="s" x="510" y="90">111353</tspan><tspan class="p" x="510" y="103">66.54%</tspan></text></g>
<g id="m95"><text class="tp" x="511" y="-21">♩=162</text><text class="mn" x="511" y="-8">95</text><text class="lb"><tspan class="c" x="750" y="76">178</tspan><tspan class="s" x="750" y="90">113489</tspan><tspan class="p" x="750" y="103">54.04%</tspan></text></g>
<g id="m96"><text class="tp" x="751" y="-21">♩=163</text><text class="mn" x="751" y="-8">96</text><text class="lb"><tspan class="c" x="990" y="76">190</tspan><tspan class="s" x="990" y="90">115769</tspan><tspan class="p" x="990" y="103">41.54%</tspan></text></g>
</g>

<g id="row25" transform="translate(0,3590)">
<use href="#grid4"/>
<use href="#patD"/>
<rect class="ob" x="31" width="960" height="60"/>
<g id="m97"><text class="mn" x="31" y="-8">97</text><text class="lb"><tspan class="c" x="270" y="76">178</tspan><tspan class="s" x="270" y="90">117905</tspan><tspan class="p" x="270" y="103">29.04%</tspan></text></g>
<g id="m98"><text class="tp" x="271" y="-21">♩=164</text><text class="mn" x="271" y="-8">98</text><text class="lb"><tspan class="c" x="510" y="76">190</tspan><tspan class="s" x="510" y="90">120185</tspan><tspan class="p" x="510" y="103">16.54%</tspan></text></g>
<g id="m99"><text class="mn" x="511" y="-8">99</text><text class="lb"><tspan class="c" x="750" y="76">178</tspan><tspan class="s" x="750" y="90">122471</tspan><tspan class="p" x="750" y="103">4.04%</tspan></text></g>
<g id="m100"><text class="mn" x="751" y="-8">100</text><text class="lb"><tspan class="c" x="990" y="76">190</tspan><tspan class="s" x="990" y="90">124601</tspan><tspan class="p" x="990" y="103">0.00%</tspan></text></g>
</g>

<g id="row26" transform="translate(0,3731)">
<use href="#grid4"/>
<use href="#patD"/>
<rect class="ob" x="31" width="317" height="60"/><rect class="op" x="348" width="13" height="60"/>
<g id="m101"><text class="mn" x="31" y="-8">101</text><text class="lb"><tspan class="c" x="270" y="76">178</tspan><tspan class="s" x="270" y="90">126737</tspan><tspan class="p" x="270" y="103">0.00%</tspan></text></g>
<g id="m102"><text class="tp" x="271" y="-21">♩=163</text><text class="mn" x="271" y="-8">102</text><text class="lb"><tspan class="c" x="510" y="76">190</tspan><tspan class="s" x="510" y="90">128477</tspan><tspan class="p" x="510" y="103">0.00%</tspan></text></g>
<g id="m103"><text class="mn" x="511" y="-8">103</text><text class="lb"><tspan class="c" x="750" y="76">178</tspan><tspan class="s" x="750" y="90">129545</tspan><tspan class="p" x="750" y="103">0.00%</tspan></text></g>
<g id="m104"><text class="mn" x="751" y="-8">104</text><text class="lb"><tspan class="c" x="990" y="76">190</tspan><tspan class="s" x="990" y="90">130685</tspan><tspan class="p" x="990" y="103">0.00%</tspan></text></g>
</g>

<g id="row27" transform="translate(0,3872)">
<use href="#grid4"/>
<rect class="sR" x="31" y="11.5" width="15" height="7"/>
<use href="#R8" x="61"/><use href="#R4" x="301"/>
<rect class="sG" x="421" y="-3.5" width="45" height="7"/><use href="#nG" x="421"/>
<rect class="sR" x="481" y="11.5" width="45" height="7"/><use href="#nR" x="481" y="15"/>
<use href="#R4" x="541"/><use href="#nR" x="661" y="15"/><use href="#nR" x="691" y="15"/><use href="#nR" x="721" y="15"/>
<use href="#SR4" x="751"/><use href="#tR" x="871" y="15"/><use href="#tR" x="901" y="15"/><use href="#tR" x="931" y="15"/>
<rect class="og" x="751" width="180" height="60"/>
<g id="m105"><text class="mn" x="31" y="-8">105</text><text class="lb"><tspan class="c" x="270" y="76">178</tspan><tspan class="s" x="270" y="90">131753</tspan><tspan class="p" x="270" y="103">0.00%</tspan></text></g>
<g id="m106"><text class="mn" x="271" y="-8">106</text><text class="lb"><tspan class="c" x="510" y="76">190</tspan><tspan class="s" x="510" y="90">132893</tspan><tspan class="p" x="510" y="103">0.00%</tspan></text></g>
<g id="m107"><text class="mn" x="511" y="-8">107</text><text class="lb"><tspan class="c" x="750" y="76">178</tspan><tspan class="s" x="750" y="90">133961</tspan><tspan class="p" x="750" y="103">0.00%</tspan></text></g>
<g id="m108"><text class="mn" x="751" y="-8">108</text><text class="lb"><tspan class="c" x="990" y="76">175</tspan><tspan class="s" x="990" y="90">135011</tspan><tspan class="p" x="990" y="103">25.00%</tspan></text></g>
</g>

<g id="row28" transform="translate(0,4013)">
<use href="#grid4"/>
<use href="#nB" x="31" y="45"/><use href="#nB" x="61" y="45"/><use href="#nB" x="91" y="45"/>
<rect class="sG" x="121" y="-3.5" width="45" height="7"/><use href="#nG" x="121"/><use href="#nG" x="181"/><use href="#nG" x="211"/>
<rect class="sO" x="241" y="56.5" width="45" height="7"/><use href="#nO" x="241" y="60"/><use href="#nO" x="301" y="60"/>
<use href="#nB" x="331" y="45"/>
<rect class="sR" x="361" y="11.5" width="45" height="7"/><use href="#nR" x="361" y="15"/><use href="#nR" x="421" y="15"/><use href="#nR" x="451" y="15"/><use href="#nR" x="481" y="15"/>
<use href="#nB" x="511" y="45"/><use href="#nB" x="541" y="45"/><use href="#nB" x="571" y="45"/>
<rect class="sG" x="601" y="-3.5" width="45" height="7"/><use href="#nG" x="601"/><use href="#nG" x="661"/><use href="#nG" x="691"/>
<rect class="sO" x="721" y="56.5" width="45" height="7"/><use href="#nO" x="721" y="60"/>
<use href="#nB" x="781" y="45"/><use href="#nR" x="811" y="15"/>
<rect class="sR" x="871" y="11.5" width="45" height="7"/><use href="#nR" x="871" y="15"/>
<rect class="sR" x="931" y="11.5" width="45" height="7"/><use href="#nR" x="931" y="15"/>
<g id="m109"><text class="tp" x="31" y="-21">♩=162</text><text class="mn" x="31" y="-8">109</text><text class="lb"><tspan class="c" x="270" y="76">190</tspan><tspan class="s" x="270" y="90">136151</tspan><tspan class="p" x="270" y="103">25.00%</tspan></text></g>
<g id="m110"><text class="tp" x="271" y="-21">♩=162</text><text class="mn" x="271" y="-8">110</text><text class="lb"><tspan class="c" x="510" y="76">162</tspan><tspan class="s" x="510" y="90">137123</tspan><tspan class="p" x="510" y="103">25.00%</tspan></text></g>
<g id="m111"><text class="tp" x="511" y="-21">♩=161</text><text class="mn" x="511" y="-8">111</text><text class="lb"><tspan class="c" x="750" y="76">190</tspan><tspan class="s" x="750" y="90">138263</tspan><tspan class="p" x="750" y="103">25.00%</tspan></text></g>
<g id="m112"><text class="tp" x="751" y="-21">♩=161</text><text class="mn" x="751" y="-8">112</text><text class="lb"><tspan class="c" x="990" y="76">121</tspan><tspan class="s" x="990" y="90">138989</tspan><tspan class="p" x="990" y="103">25.00%</tspan></text></g>
</g>

<g id="row29" transform="translate(0,4154)">
<use href="#grid4"/>
<use href="#nB" x="31" y="45"/><use href="#nB" x="61" y="45"/><use href="#nB" x="91" y="45"/>
<rect class="sG" x="121" y="-3.5" width="45" height="7"/><use href="#nG" x="121"/><use href="#nG" x="181"/><use href="#nG" x="211"/>
<rect class="sO" x="241" y="56.5" width="45" height="7"/><use href="#nO" x="241" y="60"/><use href="#nO" x="301" y="60"/>
<use href="#nB" x="331" y="45"/>
<rect class="sR" x="361" y="11.5" width="45" height="7"/><use href="#nR" x="361" y="15"/><use href="#nR" x="421" y="15"/>
<rect class="sR" x="451" y="11.5" width="45" height="7"/><use href="#nR" x="451" y="15"/>
<use href="#B8" x="511"/><use href="#B8" x="751"/>
<g id="m113"><text class="mn" x="31" y="-8">113</text><text class="lb"><tspan class="c" x="270" y="76">190</tspan><tspan class="s" x="270" y="90">140129</tspan><tspan class="p" x="270" y="103">25.00%</tspan></text></g>
<g id="m114"><text class="tp" x="271" y="-21">♩=160</text><text class="mn" x="271" y="-8">114</text><text class="lb"><tspan class="c" x="510" y="76">146</tspan><tspan class="s" x="510" y="90">141005</tspan><tspan class="p" x="510" y="103">25.00%</tspan></text></g>
<g id="m115"><text class="tp" x="511" y="-21">♩=160</text><text class="mn" x="511" y="-8">115</text><text class="lb"><tspan class="c" x="750" y="76">200</tspan><tspan class="s" x="750" y="90">142205</tspan><tspan class="p" x="750" y="103">25.00%</tspan></text></g>
<g id="m116"><text class="mn" x="751" y="-8">116</text><text class="lb"><tspan class="c" x="990" y="76">200</tspan><tspan class="s" x="990" y="90">143405</tspan><tspan class="p" x="990" y="103">25.00%</tspan></text></g>
</g>

<g id="row30" transform="translate(0,4295)">
<use href="#grid4"/>
<use href="#O8" x="31"/><use href="#O4" x="271"/><use href="#nO" x="391" y="60"/>
<use href="#nB" x="421" y="45"/><use href="#nR" x="451" y="15"/><use href="#nG" x="481"/>
<use href="#nR" x="511" y="15"/><use href="#nG" x="541"/><use href="#nR" x="571" y="15"/>
<rect class="sB" x="601" y="41.5" width="45" height="7"/><use href="#nB" x="601" y="45"/><use href="#nB" x="661" y="45"/><use href="#nB" x="691" y="45"/>
<rect class="sG" x="721" y="-3.5" width="45" height="7"/><use href="#nG" x="721"/>
<use href="#tG" x="781"/><use href="#tG" x="811"/>
<rect class="sO" x="841" y="56.5" width="45" height="7"/><use href="#tO" x="841" y="60"/>
<use href="#tB" x="901" y="45"/><use href="#tR" x="931" y="15"/><use href="#tG" x="961"/>
<rect class="og" x="781" width="180" height="60"/>
<g id="m117"><text class="tp" x="31" y="-21">♩=161</text><text class="mn" x="31" y="-8">117</text><text class="lb"><tspan class="c" x="270" y="76">200</tspan><tspan class="s" x="270" y="90">144605</tspan><tspan class="p" x="270" y="103">25.00%</tspan></text></g>
<g id="m118"><text class="mn" x="271" y="-8">118</text><text class="lb"><tspan class="c" x="510" y="76">200</tspan><tspan class="s" x="510" y="90">145805</tspan><tspan class="p" x="510" y="103">25.00%</tspan></text></g>
<g id="m119"><text class="mn" x="511" y="-8">119</text><text class="lb"><tspan class="c" x="750" y="76">190</tspan><tspan class="s" x="750" y="90">146945</tspan><tspan class="p" x="750" y="103">25.00%</tspan></text></g>
<g id="m120"><text class="mn" x="751" y="-8">120</text><text class="lb"><tspan class="c" x="990" y="76">162</tspan><tspan class="s" x="990" y="90">147917</tspan><tspan class="p" x="990" y="103">52.55%</tspan></text></g>
</g>

<g id="row31" transform="translate(0,4436)">
<use href="#grid4"/>
<use href="#patA"/>
<use href="#nR" x="511" y="15"/><use href="#nG" x="541"/><use href="#nR" x="571" y="15"/>
<rect class="sB" x="601" y="41.5" width="45" height="7"/><use href="#nB" x="601" y="45"/><use href="#nB" x="661" y="45"/><use href="#nB" x="691" y="45"/>
<rect class="sG" x="721" y="-3.5" width="45" height="7"/><use href="#nG" x="721"/><use href="#nG" x="781"/><use href="#nG" x="811"/>
<rect class="sO" x="841" y="56.5" width="45" height="7"/><use href="#tO" x="841" y="60"/>
<use href="#tB" x="901" y="45"/><use href="#tR" x="931" y="15"/><use href="#tG" x="961"/>
<rect class="og" x="841" width="120" height="60"/><rect class="op" x="421" width="10" height="60"/><rect class="ob" x="431" width="560" height="60"/>
<g id="m121"><text class="mn" x="31" y="-8">121</text><text class="lb"><tspan class="c" x="270" y="76">190</tspan><tspan class="s" x="270" y="90">149057</tspan><tspan class="p" x="270" y="103">52.55%</tspan></text></g>
<g id="m122"><text class="mn" x="271" y="-8">122</text><text class="lb"><tspan class="c" x="510" y="76">162</tspan><tspan class="s" x="510" y="90">150479</tspan><tspan class="p" x="510" y="103">48.38%</tspan></text></g>
<g id="m123"><text class="mn" x="511" y="-8">123</text><text class="lb"><tspan class="c" x="750" y="76">190</tspan><tspan class="s" x="750" y="90">152759</tspan><tspan class="p" x="750" y="103">35.88%</tspan></text></g>
<g id="m124"><text class="mn" x="751" y="-8">124</text><text class="lb"><tspan class="c" x="990" y="76">162</tspan><tspan class="s" x="990" y="90">154703</tspan><tspan class="p" x="990" y="103">50.93%</tspan></text></g>
</g>

<g id="row32" transform="translate(0,4577)">
<use href="#grid4"/>
<use href="#patA"/><use href="#patA" x="480"/>
<rect class="ob" x="31" width="960" height="60"/>
<g id="m125"><text class="tp" x="31" y="-21">♩=162</text><text class="mn" x="31" y="-8">125</text><text class="lb"><tspan class="c" x="270" y="76">190</tspan><tspan class="s" x="270" y="90">156983</tspan><tspan class="p" x="270" y="103">38.43%</tspan></text></g>
<g id="m126"><text class="mn" x="271" y="-8">126</text><text class="lb"><tspan class="c" x="510" y="76">162</tspan><tspan class="s" x="510" y="90">158927</tspan><tspan class="p" x="510" y="103">25.93%</tspan></text></g>
<g id="m127"><text class="mn" x="511" y="-8">127</text><text class="lb"><tspan class="c" x="750" y="76">190</tspan><tspan class="s" x="750" y="90">161207</tspan><tspan class="p" x="750" y="103">13.43%</tspan></text></g>
<g id="m128"><text class="mn" x="751" y="-8">128</text><text class="lb"><tspan class="c" x="990" y="76">162</tspan><tspan class="s" x="990" y="90">163151</tspan><tspan class="p" x="990" y="103">0.93%</tspan></text></g>
</g>

<g id="row33" transform="translate(0,4718)">
<use href="#grid4"/>
<use href="#patA"/><use href="#patA" x="480"/>
<rect class="ob" x="31" width="18" height="60"/><rect class="op" x="49" width="12" height="60"/>
<g id="m129"><text class="mn" x="31" y="-8">129</text><text class="lb"><tspan class="c" x="270" y="76">190</tspan><tspan class="s" x="270" y="90">164591</tspan><tspan class="p" x="270" y="103">0.00%</tspan></text></g>
<g id="m130"><text class="mn" x="271" y="-8">130</text><text class="lb"><tspan class="c" x="510" y="76">162</tspan><tspan class="s" x="510" y="90">165563</tspan><tspan class="p" x="510" y="103">0.00%</tspan></text></g>
<g id="m131"><text class="mn" x="511" y="-8">131</text><text class="lb"><tspan class="c" x="750" y="76">190</tspan><tspan class="s" x="750" y="90">166703</tspan><tspan class="p" x="750" y="103">0.00%</tspan></text></g>
<g id="m132"><text class="mn" x="751" y="-8">132</text><text class="lb"><tspan class="c" x="990" y="76">162</tspan><tspan class="s" x="990" y="90">167675</tspan><tspan class="p" x="990" y="103">0.00%</tspan></text></g>
</g>

<g id="row34" transform="translate(0,4859)">
<use href="#grid4"/>
<rect class="sB" x="121" y="41.5" width="45" height="7"/>
<rect class="sG" x="241" y="-3.5" width="45" height="7"/>
<rect class="sO" x="361" y="56.5" width="45" height="7"/>
<rect class="sG" x="481" y="-3.5" width="45" height="7"/>
<rect class="sG" x="721" y="-3.5" width="45" height="7"/>
<rect class="sR" x="961" y="11.5" width="30" height="7"/>
<use href="#nR" x="31" y="15"/><use href="#nG" x="61"/><use href="#nR" x="91" y="15"/>
<use href="#nB" x="121" y="45"/><use href="#nB" x="181" y="45"/><use href="#nB" x="211" y="45"/>
<use href="#nG" x="241"/><use href="#nG" x="301"/><use href="#nG" x="331"/>
<use href="#nO" x="361" y="60"/><use href="#nB" x="421" y="45"/><use href="#nR" x="451" y="15"/>
<use href="#nG" x="481"/><use href="#nG" x="541"/><use href="#nB" x="571" y="45"/><use href="#nB" x="631" y="45"/><use href="#nG" x="661"/>
<use href="#nG" x="721"/><use href="#nG" x="781"/><use href="#nB" x="811" y="45"/><use href="#nB" x="871" y="45"/><use href="#nG" x="901"/>
<use href="#nR" x="961" y="15"/>
<g id="m133"><text class="tp" x="31" y="-21">♩=161</text><text class="mn" x="31" y="-8">133</text><text class="lb"><tspan class="c" x="270" y="76">190</tspan><tspan class="s" x="270" y="90">168815</tspan><tspan class="p" x="270" y="103">0.00%</tspan></text></g>
<g id="m134"><text class="mn" x="271" y="-8">134</text><text class="lb"><tspan class="c" x="510" y="76">168</tspan><tspan class="s" x="510" y="90">169823</tspan><tspan class="p" x="510" y="103">0.00%</tspan></text></g>
<g id="m135"><text class="tp" x="511" y="-21">♩=160</text><text class="mn" x="511" y="-8">135</text><text class="lb"><tspan class="c" x="750" y="76">134</tspan><tspan class="s" x="750" y="90">170627</tspan><tspan class="p" x="750" y="103">0.00%</tspan></text></g>
<g id="m136"><text class="mn" x="751" y="-8">136</text><text class="lb"><tspan class="c" x="990" y="76">134</tspan><tspan class="s" x="990" y="90">171431</tspan><tspan class="p" x="990" y="103">0.00%</tspan></text></g>
</g>

<g id="row35" transform="translate(0,5000)">
<use href="#grid1" x="31"/>
<rect class="sR" x="31" y="11.5" width="60" height="7"/>
<g id="m137"><text class="mn" x="31" y="-8">137</text><text class="lb"><tspan class="c" x="270" y="76">12</tspan><tspan class="s" x="270" y="90">171503</tspan><tspan class="p" x="270" y="103">0.00%</tspan></text></g>
</g>
</g>
</svg>
